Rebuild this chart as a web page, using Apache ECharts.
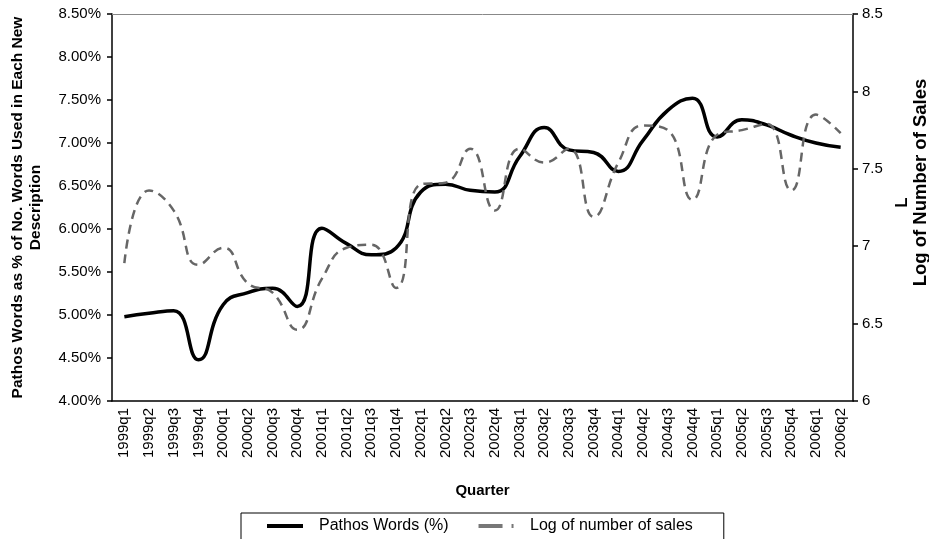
<!DOCTYPE html>
<html>
<head>
<meta charset="utf-8">
<script src="https://cdn.jsdelivr.net/npm/echarts@6/dist/echarts.min.js"></script>
<style>
  html, body { margin: 0; padding: 0; background: #fff; }
  #chart { width: 929px; height: 539px; }
</style>
</head>
<body>
<div id="chart"></div>
<script>
var quarters = ['1999q1','1999q2','1999q3','1999q4','2000q1','2000q2','2000q3','2000q4',
  '2001q1','2001q2','2001q3','2001q4','2002q1','2002q2','2002q3','2002q4',
  '2003q1','2003q2','2003q3','2003q4','2004q1','2004q2','2004q3','2004q4',
  '2005q1','2005q2','2005q3','2005q4','2006q1','2006q2'];

// pathos words, % of words (left axis)
var pathos = [4.98, 5.02, 5.05, 4.48, 5.12, 5.26, 5.31, 5.10,
  6.01, 5.83, 5.70, 5.78, 6.43, 6.52, 6.45, 6.43,
  6.84, 7.18, 6.92, 6.89, 6.67, 7.03, 7.38, 7.52,
  7.07, 7.27, 7.21, 7.09, 7.00, 6.95];

// log of number of sales (right axis)
var logSales = [6.89, 7.36, 7.23, 6.88, 6.99, 6.76, 6.70, 6.46,
  6.79, 6.99, 7.01, 6.73, 7.40, 7.41, 7.63, 7.23,
  7.63, 7.54, 7.63, 7.19, 7.54, 7.78, 7.75, 7.30,
  7.72, 7.75, 7.79, 7.36, 7.85, 7.73];

var font = 'Liberation Sans, Arial, sans-serif';

(function () {
    var chart = echarts.init(document.getElementById('chart'));
    var option = {
        backgroundColor: '#fff',
        textStyle: { fontFamily: font, color: '#000' },
        animation: false,
        grid: { left: 112, right: 76, top: 14, bottom: 138, outerBoundsMode: 'none' },
        legend: {
            left: 241,
            top: 513,
            padding: [5, 31, 10, 26],
            itemGap: 30,
            itemWidth: 36,
            itemHeight: 4,
            borderColor: '#000',
            borderWidth: 1,
            textStyle: { fontSize: 16, color: '#000', fontFamily: font, padding: [0, 0, 0, 11] },
            data: [
                { name: 'Pathos Words (%)', icon: 'path://M0,0H36V4H0Z', itemStyle: { color: '#000' } },
                { name: 'Log of number of sales', icon: 'path://M0,0H24V4H0Z M33,0H35V4H33Z', itemStyle: { color: '#777' } }
            ]
        },
        xAxis: [
            {
                type: 'category',
                data: quarters,
                boundaryGap: true,
                name: 'Quarter',
                nameLocation: 'middle',
                nameGap: 82,
                nameTextStyle: { fontWeight: 'bold', fontSize: 15, color: '#000' },
                axisLine: { lineStyle: { color: '#000', width: 1.5 } },
                axisTick: { interval: 0, length: 5, lineStyle: { color: '#000', width: 1.5 } },
                axisLabel: { interval: 0, rotate: 90, fontSize: 15, color: '#000', margin: 7 }
            },
            {
                type: 'category',
                data: quarters,
                position: 'top',
                axisLine: { lineStyle: { color: '#888', width: 1 } },
                axisTick: { show: false },
                axisLabel: { show: false }
            }
        ],
        yAxis: [
            {
                type: 'value',
                min: 4, max: 8.5, interval: 0.5,
                name: 'Pathos Words as % of No. Words Used in Each New\nDescription',
                nameLocation: 'middle',
                nameRotate: 90,
                nameGap: 67,
                nameTextStyle: { fontWeight: 'bold', fontSize: 15.5, color: '#000', lineHeight: 18 },
                splitLine: { show: false },
                axisLine: { show: true, lineStyle: { color: '#000', width: 1.5 } },
                axisTick: { show: true, length: 5, lineStyle: { color: '#000', width: 1.5 } },
                axisLabel: {
                    fontSize: 15, color: '#000', margin: 11,
                    formatter: function (v) { return v.toFixed(2) + '%'; }
                }
            },
            {
                type: 'value',
                min: 6, max: 8.5, interval: 0.5,
                position: 'right',
                name: '{l|L}\n{g|Log of Number of Sales}',
                nameLocation: 'middle',
                nameRotate: 90,
                nameGap: 39,
                nameTextStyle: {
                    fontWeight: 'bold', fontSize: 16, color: '#000', lineHeight: 18,
                    rich: {
                        l: { fontWeight: 'bold', fontSize: 17, lineHeight: 18, padding: [0, 0, 0, 10] },
                        g: { fontWeight: 'bold', fontSize: 18.5, lineHeight: 18, padding: [0, 0, 0, 50] }
                    }
                },
                splitLine: { show: false },
                axisLine: { show: true, lineStyle: { color: '#000', width: 1.5 } },
                axisTick: { show: true, length: 5, lineStyle: { color: '#000', width: 1.5 } },
                axisLabel: { fontSize: 15, color: '#000', margin: 9 }
            }
        ],
        series: [
            {
                name: 'Pathos Words (%)',
                type: 'line',
                data: pathos,
                yAxisIndex: 0,
                smooth: 0.5,
                symbol: 'none',
                itemStyle: { color: '#000' },
                lineStyle: { color: '#000', width: 3.5 }
            },
            {
                name: 'Log of number of sales',
                type: 'line',
                data: logSales,
                yAxisIndex: 1,
                smooth: 0.5,
                symbol: 'none',
                itemStyle: { color: '#777' },
                lineStyle: { color: '#666', width: 2.5, type: [9, 6] }
            }
        ]
    };
    chart.setOption(option);
}());
</script>
</body>
</html>
